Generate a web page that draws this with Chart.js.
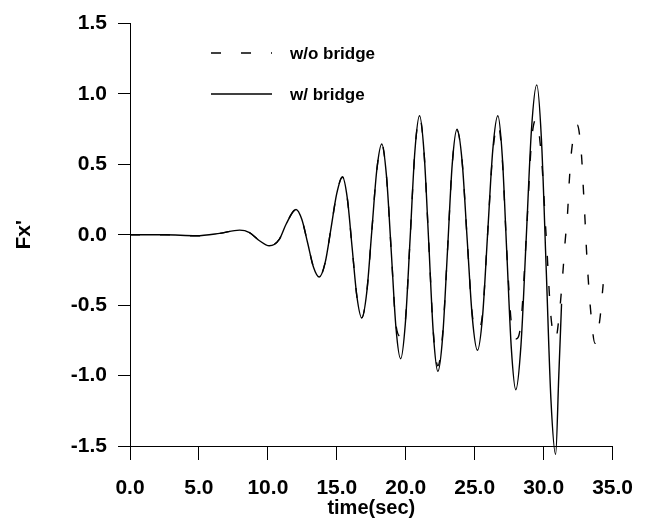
<!DOCTYPE html>
<html>
<head>
<meta charset="utf-8">
<script src="https://cdn.jsdelivr.net/npm/chart.js@4.4.1/dist/chart.umd.min.js"></script>
<style>
  html, body { margin: 0; padding: 0; background: #fff; }
  canvas { display: block; }
</style>
</head>
<body>
<canvas id="fxChart" width="649" height="529"></canvas>
<script>
// series names
const seriesNames = ['w/o bridge', 'w/ bridge'];

// w/ bridge (solid)
const timeWith = [0, 2.5, 4.8, 6.5, 7.95, 8.67, 9.39, 10.1, 10.84, 11.32, 12.04, 12.46, 12.89, 13.31, 13.73,
  14.15, 14.57, 14.99, 15.41, 15.76, 16.11, 16.46, 16.81, 17.17, 17.54, 17.9, 18.26, 18.6, 18.95, 19.29, 19.63,
  19.97, 20.32, 20.66, 21.0, 21.33, 21.67, 22.0, 22.33, 22.68, 23.03, 23.37, 23.72, 24.09, 24.46, 24.83, 25.2,
  25.57, 25.94, 26.31, 26.68, 27.0, 27.33, 27.66, 27.98, 28.36, 28.74, 29.12, 29.5, 29.84, 30.19, 30.53, 30.87,
  31.1, 31.3];
const fxWith = [0, 0, -0.007, 0.01, 0.033, 0.016, -0.042, -0.078, -0.03, 0.075, 0.18, 0.11, -0.06, -0.23, -0.30,
  -0.2, 0.04, 0.29, 0.41, 0.26, -0.09, -0.44, -0.59, -0.41, 0.03, 0.46, 0.645, 0.42, -0.12, -0.66, -0.88,
  -0.63, -0.02, 0.59, 0.845, 0.58, -0.06, -0.7, -0.97, -0.72, -0.11, 0.5, 0.75, 0.52, -0.04, -0.59, -0.82,
  -0.58, 0.01, 0.6, 0.845, 0.56, -0.13, -0.81, -1.1, -0.78, -0.02, 0.75, 1.065, 0.68, -0.25, -1.17, -1.56,
  -1.0, -0.49];

// w/o bridge (dashed)
const timeWithout = [0, 2.5, 4.8, 6.5, 7.95, 8.67, 9.39, 10.1, 10.84, 11.32, 12.04, 12.46, 12.89, 13.31, 13.73,
  14.15, 14.57, 14.99, 15.41, 15.76, 16.11, 16.46, 16.81, 17.17, 17.54, 17.9, 18.26, 18.6, 18.95, 19.29, 19.63,
  19.97, 20.32, 20.66, 21.0, 21.33, 21.67, 22.0, 22.33, 22.68, 23.03, 23.37, 23.72, 24.09, 24.46, 24.83, 25.2,
  25.57, 25.94, 26.31, 26.68, 27.0, 27.33, 27.66, 27.98, 28.36, 28.74, 29.12, 29.45, 29.84, 30.19, 30.53, 30.87,
  31.12, 31.38, 31.55, 31.74, 31.86, 32.03, 32.44, 32.75, 32.88, 33.0, 33.11, 33.24, 33.43, 33.72, 34.08, 34.32];
const fxWithout = [0, 0, -0.007, 0.01, 0.033, 0.016, -0.042, -0.078, -0.03, 0.075, 0.18, 0.11, -0.06, -0.23, -0.30,
  -0.2, 0.04, 0.29, 0.41, 0.26, -0.09, -0.44, -0.59, -0.41, 0.03, 0.46, 0.645, 0.42, -0.12, -0.64, -0.72,
  -0.61, -0.02, 0.59, 0.84, 0.58, -0.06, -0.69, -0.93, -0.7, -0.11, 0.5, 0.74, 0.52, -0.04, -0.57, -0.68,
  -0.56, 0.01, 0.58, 0.79, 0.54, -0.12, -0.63, -0.74, -0.62, -0.02, 0.66, 0.82, 0.55, -0.02, -0.58, -0.74,
  -0.58, -0.29, -0.06, 0.16, 0.38, 0.6, 0.78, 0.56, 0.33, 0.11, -0.11, -0.32, -0.56, -0.77, -0.6, -0.35];

// axis ticks
const xTickValues = [0, 5, 10, 15, 20, 25, 30, 35];
const yTickValues = [-1.5, -1.0, -0.5, 0.0, 0.5, 1.0, 1.5];

const FONT = "'Liberation Sans', Arial, sans-serif";
const dashPattern = [10, 20];

function toPoints(xs, ys) {
  return xs.map((x, i) => ({ x: x, y: ys[i] }));
}

// legend drawn inside the plot, top left
const insideLegend = {
  id: 'insideLegend',
  afterDraw(chart) {
    const ctx = chart.ctx;
    const rows = [
      { ds: chart.data.datasets[0], y: 53 },
      { ds: chart.data.datasets[1], y: 94 }
    ];
    ctx.save();
    rows.forEach(r => {
      ctx.beginPath();
      ctx.strokeStyle = '#000';
      ctx.lineWidth = 1.3;
      ctx.setLineDash(r.ds.borderDash || []);
      ctx.moveTo(211, r.y);
      ctx.lineTo(272, r.y);
      ctx.stroke();
      ctx.setLineDash([]);
      ctx.fillStyle = '#000';
      ctx.font = 'bold 17px ' + FONT;
      ctx.textBaseline = 'middle';
      ctx.textAlign = 'left';
      ctx.fillText(r.ds.label, 290, r.y + 1);
    });
    ctx.restore();
  }
};

new Chart(document.getElementById('fxChart'), {
  type: 'line',
  data: {
    datasets: [{
      label: seriesNames[0],
      data: toPoints(timeWithout, fxWithout),
      borderColor: '#000',
      borderWidth: 1.4,
      borderDash: dashPattern,
      pointRadius: 0,
      cubicInterpolationMode: 'monotone',
      fill: false,
      clip: false,
      order: 1
    }, {
      label: seriesNames[1],
      data: toPoints(timeWith, fxWith),
      borderColor: '#000',
      borderWidth: 1.4,
      pointRadius: 0,
      cubicInterpolationMode: 'monotone',
      fill: false,
      clip: false,
      order: 0
    }]
  },
  options: {
    responsive: false,
    animation: false,
    layout: { padding: { left: 0, right: 35, top: 21, bottom: 0 } },
    plugins: {
      legend: { display: false },
      tooltip: { enabled: false }
    },
    scales: {
      x: {
        type: 'linear',
        min: 0,
        max: 35,
        afterBuildTicks: s => { s.ticks = xTickValues.map(v => ({ value: v })); },
        afterFit: s => { s.height = 83; },
        grid: { drawOnChartArea: false, drawTicks: true, tickLength: 14, color: '#000' },
        border: { display: true, color: '#000', width: 1 },
        ticks: {
          color: '#000',
          padding: 16,
          maxRotation: 0,
          font: { family: FONT, size: 21, weight: 'bold' },
          callback: v => v.toFixed(1)
        },
        title: {
          display: true,
          text: 'time(sec)',
          color: '#000',
          padding: { top: 0, bottom: 9 },
          font: { family: FONT, size: 20, weight: 'bold' }
        }
      },
      y: {
        type: 'linear',
        min: -1.5,
        max: 1.5,
        afterBuildTicks: s => { s.ticks = yTickValues.map(v => ({ value: v })); },
        afterFit: s => { s.width = 130; },
        grid: { drawOnChartArea: false, drawTicks: true, tickLength: 12, color: '#000' },
        border: { display: true, color: '#000', width: 1 },
        ticks: {
          color: '#000',
          padding: 11,
          font: { family: FONT, size: 21, weight: 'bold' },
          callback: v => v.toFixed(1)
        },
        title: {
          display: true,
          text: "Fx'",
          color: '#000',
          padding: { top: 12, bottom: 0 },
          font: { family: FONT, size: 21, weight: 'bold' }
        }
      }
    }
  },
  plugins: [insideLegend]
});
</script>
</body>
</html>
